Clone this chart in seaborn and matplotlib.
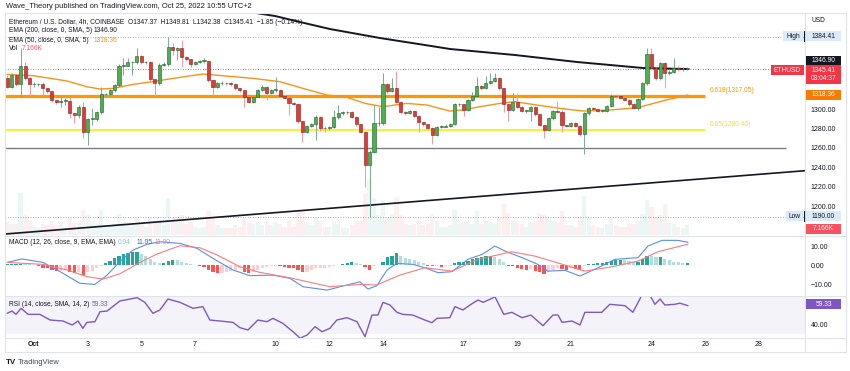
import numpy as np
import matplotlib
matplotlib.use("Agg")
import matplotlib.pyplot as plt
from matplotlib.patches import Rectangle
from matplotlib.ticker import FuncFormatter
import seaborn as sns

# ---- 4h candles, ETHUSD, Sep 30 00:00 -> Oct 25 08:00 (one value per candle)
first_open = 1331.6
closes = [1323.0, 1335.0, 1325.4, 1344.7, 1332.3, 1325.4, 1325.4, 1325.4, 1321.3, 1318.6,
          1308.9, 1307.6, 1308.2, 1308.2, 1295.5, 1293.8, 1302.4, 1275.9, 1289.7, 1289.7,
          1296.6, 1315.1, 1315.1, 1319.2, 1324.7, 1344.7, 1344.7, 1348.1, 1348.1, 1354.6,
          1348.1, 1348.1, 1330.9, 1326.5, 1345.4, 1346.0, 1364.3, 1360.8, 1362.5, 1353.9,
          1351.2, 1346.0, 1348.8, 1349.5, 1349.5, 1329.9, 1323.0, 1326.5, 1327.1, 1326.5,
          1325.8, 1321.3, 1319.6, 1312.7, 1307.6, 1312.7, 1319.6, 1323.0, 1316.1, 1319.6,
          1319.6, 1313.4, 1311.7, 1305.8, 1305.5, 1287.6, 1276.6, 1282.8, 1284.5, 1292.1,
          1280.8, 1280.1, 1281.8, 1292.1, 1295.5, 1296.6, 1296.6, 1292.1, 1284.2, 1276.6,
          1242.3, 1256.0, 1285.2, 1285.2, 1325.4, 1318.6, 1322.0, 1307.6, 1296.6, 1295.9,
          1298.3, 1293.1, 1286.3, 1284.2, 1280.8, 1273.2, 1281.8, 1281.8, 1282.8, 1284.9,
          1304.8, 1304.8, 1299.0, 1309.3, 1313.7, 1324.1, 1321.3, 1326.5, 1328.9, 1332.3,
          1321.3, 1304.8, 1299.0, 1307.6, 1302.4, 1297.9, 1297.9, 1302.4, 1294.5, 1283.5,
          1278.4, 1290.4, 1297.9, 1297.3, 1283.5, 1282.5, 1285.9, 1282.8, 1273.9, 1295.5,
          1300.7, 1300.0, 1297.9, 1297.9, 1303.1, 1313.7, 1313.1, 1311.7, 1309.3, 1304.8,
          1301.4, 1310.3, 1326.5, 1356.4, 1341.9, 1331.6, 1347.1, 1336.8, 1338.5, 1341.9,
          1340.9, 1341.2, 1341.2]
highs = [1335.0, 1336.8, 1336.0, 1362.9, 1348.8, 1333.0, 1327.5, 1327.0, 1327.5, 1322.0,
         1319.0, 1309.0, 1313.7, 1311.0, 1312.7, 1296.0, 1304.1, 1306.9, 1291.0, 1300.7,
         1298.0, 1323.0, 1317.0, 1320.5, 1326.0, 1346.0, 1352.2, 1352.2, 1350.0, 1362.5,
         1356.0, 1350.0, 1349.0, 1331.0, 1347.0, 1348.0, 1374.6, 1367.7, 1364.0, 1371.1,
         1355.0, 1352.0, 1350.0, 1351.0, 1352.2, 1350.0, 1330.0, 1328.0, 1329.0, 1328.0,
         1327.5, 1326.5, 1322.0, 1320.0, 1313.5, 1314.0, 1320.5, 1324.7, 1323.5, 1321.0,
         1333.3, 1320.5, 1314.0, 1312.0, 1307.0, 1306.0, 1288.0, 1284.0, 1286.0, 1293.5,
         1293.0, 1282.0, 1283.0, 1299.0, 1304.1, 1298.0, 1298.0, 1297.5, 1293.0, 1285.0,
         1277.5, 1257.5, 1304.1, 1302.4, 1336.8, 1326.5, 1331.6, 1339.2, 1308.5, 1297.5,
         1299.5, 1299.0, 1294.0, 1287.0, 1285.0, 1281.5, 1283.0, 1283.5, 1284.5, 1286.0,
         1306.0, 1306.0, 1305.5, 1310.5, 1318.0, 1333.3, 1325.0, 1334.4, 1336.8, 1336.8,
         1333.0, 1321.5, 1305.5, 1316.1, 1315.1, 1303.0, 1299.5, 1303.5, 1303.0, 1295.0,
         1284.0, 1291.5, 1299.0, 1308.2, 1298.5, 1284.0, 1287.0, 1287.0, 1283.5, 1297.0,
         1302.0, 1302.0, 1300.5, 1299.5, 1304.5, 1315.0, 1315.0, 1314.0, 1313.0, 1310.0,
         1306.0, 1311.5, 1328.0, 1362.5, 1362.5, 1343.0, 1348.5, 1348.0, 1340.0, 1352.2,
         1344.0, 1343.5, 1343.0]
lows = [1321.3, 1321.3, 1324.0, 1312.4, 1329.9, 1313.7, 1323.0, 1324.0, 1314.4, 1317.0,
        1307.6, 1304.8, 1302.4, 1304.1, 1290.4, 1285.2, 1290.4, 1269.8, 1262.9, 1283.5,
        1288.0, 1295.0, 1312.0, 1313.0, 1318.0, 1323.0, 1335.0, 1344.0, 1335.0, 1346.0,
        1346.0, 1346.0, 1329.0, 1313.7, 1325.0, 1344.0, 1344.5, 1355.7, 1350.5, 1343.6,
        1349.0, 1343.0, 1345.0, 1347.0, 1347.0, 1328.0, 1314.4, 1322.0, 1325.0, 1324.5,
        1324.0, 1320.0, 1318.0, 1302.4, 1306.0, 1306.0, 1312.0, 1319.0, 1309.3, 1315.0,
        1318.0, 1312.0, 1310.0, 1293.8, 1304.0, 1286.0, 1266.3, 1275.0, 1281.0, 1268.0,
        1277.0, 1276.5, 1278.5, 1280.0, 1290.0, 1294.0, 1295.0, 1290.5, 1283.0, 1275.0,
        1219.9, 1189.0, 1255.0, 1283.0, 1284.0, 1317.0, 1317.5, 1306.0, 1295.0, 1294.0,
        1294.5, 1292.0, 1276.6, 1283.0, 1279.5, 1263.6, 1272.0, 1280.0, 1281.0, 1281.5,
        1284.0, 1303.5, 1293.0, 1297.5, 1308.5, 1313.0, 1320.0, 1320.5, 1326.0, 1328.0,
        1320.0, 1296.6, 1287.6, 1298.0, 1301.0, 1296.5, 1296.0, 1287.6, 1293.0, 1282.0,
        1269.8, 1277.0, 1289.0, 1295.5, 1276.6, 1281.0, 1281.0, 1281.5, 1272.5, 1253.3,
        1294.0, 1298.5, 1296.5, 1296.5, 1296.5, 1302.0, 1311.5, 1310.5, 1308.0, 1303.5,
        1300.0, 1298.5, 1309.0, 1325.0, 1340.5, 1330.0, 1330.0, 1321.3, 1335.0, 1337.0,
        1339.0, 1339.0, 1340.0]
volumes_k = [9, 8, 8, 30, 14, 10, 6, 5, 8, 7,
             10, 7, 9, 6, 12, 9, 10, 18, 14, 9,
             8, 18, 7, 7, 8, 15, 9, 8, 7, 12,
             9, 6, 12, 10, 13, 7, 26, 12, 9, 14,
             8, 9, 6, 5, 6, 17, 12, 7, 5, 5,
             5, 7, 6, 12, 9, 8, 9, 7, 10, 7,
             9, 8, 6, 11, 6, 16, 18, 9, 7, 12,
             10, 6, 6, 9, 8, 5, 5, 7, 9, 10,
             30, 40, 26, 14, 25, 12, 15, 27, 14, 8,
             7, 8, 10, 7, 8, 15, 10, 6, 6, 7,
             18, 8, 9, 10, 8, 17, 8, 10, 9, 8,
             12, 22, 16, 11, 9, 8, 6, 9, 10, 15,
             14, 12, 10, 9, 17, 7, 7, 6, 13, 28,
             12, 7, 6, 5, 8, 12, 7, 6, 6, 8,
             8, 10, 15, 25, 20, 12, 14, 22, 9, 8,
             6, 5, 7.166]
macd_hist = [0.3, 0.5, 0.5, 0.6, 0.5, 0.3, 0.1, -0.7, -1.4, -1.8,
             -2.6, -3.0, -3.0, -2.6, -3.9, -4.2, -3.9, -5.3, -3.9, -3.0,
             -1.8, -0.4, 1.1, 2.3, 3.5, 4.6, 5.8, 6.3, 6.7, 6.7,
             5.8, 4.6, 3.2, 1.8, 1.1, 1.1, 2.3, 2.8, 2.5, 1.8,
             1.1, 0.5, 0.1, -0.7, -1.1, -2.5, -3.9, -4.2, -4.2, -3.9,
             -3.0, -2.5, -1.8, -3.5, -4.2, -3.5, -2.5, -1.4, -1.1, -0.7,
             -0.4, -0.7, -1.1, -1.4, -1.8, -2.5, -3.9, -3.5, -2.5, -1.8,
             -1.8, -1.4, -1.1, -0.7, -0.2, 0.7, 1.1, 1.4, 1.1, 0.5,
             -1.2, -2.5, -0.7, 0.1, 1.4, 4.0, 4.9, 6.3, 4.9, 3.7,
             3.2, 2.6, 1.8, 1.0, -0.3, -0.7, -0.7, -1.1, -0.7, -0.7,
             0.9, 1.4, 1.8, 2.3, 3.2, 3.9, 4.4, 4.6, 4.6, 4.4,
             3.2, 1.4, -0.4, -0.7, -1.4, -2.1, -2.5, -2.1, -3.0, -3.9,
             -4.7, -3.9, -2.5, -1.4, -2.1, -2.5, -1.8, -2.1, -2.8, -0.4,
             0.5, 0.7, 0.9, 1.1, 1.4, 2.3, 2.6, 2.8, 2.5, 2.1,
             1.4, 1.8, 3.2, 4.9, 4.6, 4.0, 4.4, 3.2, 2.5, 1.8,
             1.4, 0.9, 0.9]

# ---- indicator lines read at points along the chart (x in days of October)
ema50_days = [0.0, 0.96, 2.23, 2.97, 3.46, 3.94, 4.69, 5.43, 6.18, 7.29, 9.16, 10.16, 11.02,
              11.91, 12.58, 13.33, 14.00, 14.89, 15.64, 16.49, 16.98, 17.61, 18.36, 18.91,
              19.73, 20.59, 21.45, 22.45, 23.50, 24.50, 25.36]
ema50_vals = [1335.7, 1334.4, 1328.9, 1323.0, 1320.6, 1321.3, 1325.4, 1328.2, 1331.6, 1336.1,
              1331.6, 1328.2, 1321.3, 1314.4, 1312.7, 1305.8, 1302.4, 1305.8, 1304.1, 1297.9,
              1299.0, 1302.4, 1305.8, 1307.6, 1304.1, 1300.7, 1297.9, 1299.0, 1301.4, 1309.0,
              1314.4]
ema200_days = [8.30, 9.04, 9.98, 10.91, 12.02, 13.89, 15.56, 16.49, 18.91, 21.22, 22.45, 23.68, 25.36]
ema200_vals = [1404.1, 1400.0, 1395.9, 1389.7, 1382.5, 1373.2, 1366.0, 1361.9, 1355.7, 1348.5,
               1345.4, 1342.3, 1341.2]

macd_days = [0.0, 0.55, 1.34, 1.97, 2.71, 3.27, 3.72, 4.20, 4.69, 5.21, 5.69, 6.44, 7.07, 7.67,
             8.41, 9.04, 9.90, 10.53, 11.02, 11.91, 12.66, 13.14, 13.44, 13.77, 14.15, 14.52,
             15.11, 15.56, 16.05, 16.57, 17.16, 17.69, 18.17, 18.54, 19.18, 19.77, 20.14, 20.78,
             21.34, 22.01, 22.64, 23.50, 23.87, 24.39, 24.99, 25.36]
macd_vals = [1.4, 3.2, 1.4, -3.5, -9.6, -10.2, -5.3, 1.8, 7.9, 10.9, 12.3, 11.4, 8.8, 3.5,
             -2.6, -5.6, -5.3, -7.0, -11.4, -13.2, -10.5, -8.8, -12.6, -10.9, -2.6, 0.9,
             0.35, -1.4, -4.0, -3.5, 3.0, 5.6, 10.0, 7.4, 3.9, 0.35, -3.2, -2.8,
             -5.8, -1.4, 3.0, 3.9, 10.0, 13.0, 13.0, 11.95]
signal_days = [0.0, 1.34, 2.23, 2.97, 3.57, 4.20, 4.95, 5.58, 6.44, 7.18, 7.82, 8.67, 9.42,
               10.53, 12.02, 13.14, 13.77, 14.63, 15.56, 16.57, 17.54, 18.80, 19.66, 20.78,
               21.52, 22.53, 23.50, 24.24, 25.36]
signal_vals = [1.4, 0.35, -2.6, -6.1, -7.4, -4.6, 1.4, 5.8, 10.2, 9.1, 5.3, -0.9, -3.9,
               -6.7, -11.4, -10.2, -10.5, -5.3, -1.4, -3.2, 3.0, 7.0, 4.7, 0.0,
               -3.2, -0.9, 2.1, 7.0, 11.0]

rsi_days = [0.0, 0.18, 0.33, 0.52, 0.78, 1.22, 1.60, 2.08, 2.42, 2.64, 2.82, 2.97, 3.27, 3.46,
            3.72, 4.20, 4.84, 5.13, 5.43, 5.69, 5.99, 6.44, 6.92, 7.29, 7.55, 7.93, 8.41, 8.67,
            8.97, 9.34, 9.68, 9.90, 10.27, 10.65, 10.91, 11.17, 11.47, 11.73, 12.02, 12.28,
            12.66, 13.03, 13.33, 13.59, 13.81, 14.00, 14.26, 14.52, 14.74, 15.11, 15.56, 15.82,
            16.01, 16.49, 16.68, 16.98, 17.24, 17.54, 17.73, 18.06, 18.17, 18.50, 18.80, 19.18,
            19.51, 19.96, 20.33, 20.52, 20.67, 21.04, 21.34, 21.52, 21.82, 22.15, 22.45, 23.01,
            23.31, 23.68, 23.90, 24.13, 24.32, 24.50, 24.87, 25.06, 25.36]
rsi_vals = [51.5, 53.8, 50.4, 56.6, 50.4, 50.4, 44.6, 43.6, 39.5, 43.6, 36.1, 42.2, 42.9, 53.1,
            53.8, 64.1, 67.5, 62.7, 51.5, 54.9, 66.1, 62.7, 56.6, 58.3, 44.6, 43.6, 42.2, 36.8,
            34.4, 44.6, 42.9, 46.3, 41.2, 32.6, 26.0, 29.2, 37.8, 32.6, 36.1, 44.6,
            47.0, 42.9, 27.5, 49.7, 49.7, 62.7, 60.0, 52.5, 50.4, 49.7, 44.6, 41.9,
            46.3, 47.0, 58.3, 54.9, 60.0, 65.1, 62.7, 66.8, 68.5, 50.4, 52.5, 47.0,
            49.7, 38.8, 49.7, 49.7, 42.2, 43.6, 39.5, 52.5, 52.5, 52.5, 60.7, 59.3,
            52.5, 72.0, 72.0, 60.7, 66.1, 60.0, 60.7, 61.8, 59.33]

# ---- drawings
trend_days = [-0.08, 29.72]
trend_prices = [1171.1, 1236.4]
fib_618, fib_65, support = 1313.4, 1278.7, 1259.8
tick_days = [1, 3, 5, 7, 10, 12, 14, 17, 19, 21, 24, 26, 28]
tick_labels = ["Oct", "3", "5", "7", "10", "12", "14", "17", "19", "21", "24", "26", "28"]
price_ticks = [1200, 1220, 1240, 1260, 1280, 1300]

sns.set_theme(style="white")
plt.rcParams['font.family'] = ['Liberation Sans', 'DejaVu Sans']

W, H = 850, 371
TXT = "#131722"
LINE = "#e0e3eb"
fig = plt.figure(figsize=(8.5, 3.71), dpi=100)


def rect(x0, y0, x1, y1):
    return [x0 / W, 1 - y1 / H, (x1 - x0) / W, (y1 - y0) / H]


ax = fig.add_axes(rect(5, 13, 805, 235))
ax_macd = fig.add_axes(rect(5, 236, 805, 296), sharex=ax)
ax_rsi = fig.add_axes(rect(5, 296, 805, 338), sharex=ax)

closes = np.array(closes)
opens = np.r_[first_open, closes[:-1]]
highs, lows = np.array(highs), np.array(lows)
days = np.arange(len(closes)) / 6.0
up = closes >= opens

# volume (behind candles)
vax = ax.twinx()
vax.bar(days, volumes_k, width=0.16, color=np.where(up, "#26a69a", "#ef5350"), alpha=0.09, linewidth=0)
vax.set_ylim(0, 158)
vax.axis("off")
vax.set_zorder(ax.get_zorder() - 1)
ax.patch.set_visible(False)

# drawings
ax.hlines(fib_618, -0.08, 26.0, color="#ff9800", lw=2.3, zorder=2)
ax.hlines(fib_65, -0.08, 26.0, color="#ffeb3b", lw=1.5, zorder=2)
ax.hlines(support, -0.08, 29.0, color="#787b86", lw=1.0, zorder=2)
ax.plot(trend_days, trend_prices, color=TXT, lw=1.2, zorder=2)
ax.axhline(highs.max(), color="#9598a1", lw=0.6, ls=(0, (1, 2)), zorder=1)
ax.axhline(lows.min(), color="#9598a1", lw=0.6, ls=(0, (1, 2)), zorder=1)
ax.axhline(closes[-1], color="#f23645", lw=0.6, ls=(0, (1, 2)), zorder=1)

# moving averages
sns.lineplot(x=ema50_days, y=ema50_vals, ax=ax, color="#f7931a", lw=1.0, sort=False, legend=False, zorder=3)
sns.lineplot(x=ema200_days, y=ema200_vals, ax=ax, color=TXT, lw=1.4, sort=False, legend=False, zorder=3)

# candles
ax.vlines(days, lows, highs, colors=np.where(up, "#7fa992", "#ef9a9a"), lw=0.7, zorder=4)
body = np.maximum(np.abs(closes - opens), 0.7)
ax.bar(days, body, bottom=np.minimum(opens, closes), width=0.115,
       color=np.where(up, "#4caf50", "#e53935"), edgecolor=np.where(up, "#1e5e2a", "#7f1d1d"),
       linewidth=0.4, zorder=5)

ax.set_xlim(-0.08, 29.72)
ax.set_ylim(1170.1, 1399.0)
ax.yaxis.tick_right()
ax.set_yticks(price_ticks)

# MACD
hist = np.array(macd_hist)
prev = np.r_[0.0, hist[:-1]]
hcol = np.where(hist >= 0, np.where(hist >= prev, "#26a69a", "#b2dfdb"),
                np.where(hist < prev, "#ff5252", "#ffcdd2"))
ax_macd.bar(days, hist, width=0.12, color=hcol, linewidth=0)
sns.lineplot(x=macd_days, y=macd_vals, ax=ax_macd, color="#5b8def", lw=0.8, sort=False, legend=False)
sns.lineplot(x=signal_days, y=signal_vals, ax=ax_macd, color="#f77c80", lw=0.8, sort=False, legend=False)
ax_macd.set_ylim(-16.3, 15.3)
ax_macd.yaxis.tick_right()
ax_macd.set_yticks([-10, 0, 10])

# RSI
ax_rsi.axhspan(30, 70, color="#7e57c2", alpha=0.07, lw=0)
sns.lineplot(x=rsi_days, y=rsi_vals, ax=ax_rsi, color="#7e57c2", lw=1.0, sort=False, legend=False)
ax_rsi.set_ylim(26.2, 69.2)
ax_rsi.yaxis.tick_right()
ax_rsi.set_yticks([40])

fmt = FuncFormatter(lambda v, _: f"{v:.2f}".replace("-", "\u2212"))
for a in (ax, ax_macd, ax_rsi):
    for s in a.spines.values():
        s.set_visible(False)
    a.set_xlabel("")
    a.set_ylabel("")
    a.yaxis.set_major_formatter(fmt)
    a.tick_params(axis="y", length=0, pad=4.2, labelsize=5.0, labelcolor=TXT)
    a.tick_params(axis="x", length=0)
ax.tick_params(labelbottom=False)
ax_macd.tick_params(labelbottom=False)
ax_rsi.set_xticks(tick_days)
ax_rsi.set_xticklabels(tick_labels)
ax_rsi.tick_params(axis="x", pad=2.5, labelsize=5.0, labelcolor=TXT)
ax_rsi.get_xticklabels()[0].set_fontweight("bold")

# ---- overlay in pixel units for legends and price tags
ov = fig.add_axes([0, 0, 1, 1], zorder=20)
ov.set_xlim(0, W)
ov.set_ylim(H, 0)
ov.axis("off")

for y in (13, 236, 296, 338, 352):
    ov.plot([5, 846], [y, y], color=LINE, lw=0.8)
for x in (5, 805, 846):
    ov.plot([x, x], [13, 352], color=LINE, lw=0.8)


def label(x, y, s, color=TXT, size=4.75, **kw):
    ov.text(x, y, s, color=color, fontsize=size, va="center", **kw)


def tag(x0, x1, y0, y1, s, bg, fg="white"):
    ov.add_patch(Rectangle((x0, y0), x1 - x0, y1 - y0, facecolor=bg, edgecolor="none", zorder=5))
    ov.text((x0 + x1) / 2, (y0 + y1) / 2, s, color=fg, fontsize=4.8, ha="center", va="center",
            zorder=6, linespacing=1.35)


label(6, 7, "Wave_Theory published on TradingView.com, Oct 25, 2022 10:55 UTC+2", size=5.45)
label(9, 22, "Ethereum / U.S. Dollar, 4h, COINBASE  O1347.37  H1349.81  L1342.38  C1345.41  \u22121.85 (\u22120.14%)")
label(9, 31, "EMA (200, close, 0, SMA, 5)")
label(94, 31, "1346.90")
label(9, 40, "EMA (50, close, 0, SMA, 5)")
label(94, 40, "1318.36", color="#f7931a")
label(9, 49, "Vol")
label(22, 49, "7.166K", color="#f7525f")
label(9, 243, "MACD (12, 26, close, 9, EMA, EMA)")
label(118, 243, "0.94", color="#80cbc4")
label(137, 243, "11.95", color="#2962ff")
label(155, 243, "11.00", color="#f77c80")
label(9, 305, "RSI (14, close, SMA, 14, 2)")
label(92, 305, "59.33", color="#7e57c2")
label(710, 91, "0.618(1317.05)", color="#ff9800")
label(710, 124, "0.65(1280.40)", color="#f5d742")

label(812, 21, "USD")
tag(783, 803, 31, 41, "High", "#dbe9fb", TXT)
ov.plot([804, 804], [31, 41], color=TXT, lw=0.8)
tag(806, 841, 31, 41, "1384.41", "#dbe9fb", TXT)
tag(806, 841, 56, 66, "1346.90", TXT)
tag(771, 804, 65, 75, "ETHUSD", "#f23645")
tag(806, 841, 65, 84, "1345.41\n03:04:37", "#f23645")
tag(806, 841, 90, 100, "1318.36", "#f57c00")
tag(786, 803, 211, 221, "Low", "#dbe9fb", TXT)
ov.plot([804, 804], [211, 221], color=TXT, lw=0.8)
tag(806, 841, 211, 221, "1190.00", "#dbe9fb", TXT)
tag(806, 841, 224, 234, "7.166K", "#f7525f")
tag(806, 841, 299, 309, "59.33", "#7e57c2")

label(6, 362, "TV", size=5.8, weight="bold")
label(18, 362, "TradingView", size=5.4, color="#434651")

fig.savefig("out.png", dpi=100, facecolor="white")
